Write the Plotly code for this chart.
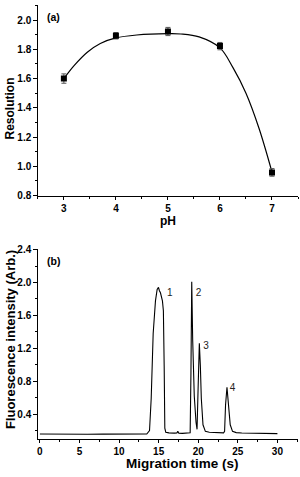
import plotly.graph_objects as go

W, H = 300, 477

# ---- Panel (a) data: resolution vs pH ----
ph = [3, 4, 5, 6, 7]
resolution = [1.60, 1.893, 1.922, 1.822, 0.958]
res_err = [0.032, 0.022, 0.028, 0.025, 0.026]
fit_ph = [3.0, 3.2, 3.45, 3.7, 4.0, 4.4, 5.0, 5.25, 5.6, 6.0, 6.25, 6.5, 6.75, 7.0]
fit_res = [1.60, 1.69, 1.78, 1.84, 1.878, 1.898, 1.907, 1.905, 1.885, 1.81, 1.675, 1.50, 1.26, 0.96]

# ---- Panel (b) data: electropherogram ----
time_s = [0, 2, 4, 6, 8, 10, 12, 13.5, 13.85, 14.06, 14.31, 14.6, 14.81, 14.98, 15.1,
          15.23, 15.48, 15.6, 15.7, 15.78, 15.9, 16.3, 17.0, 17.3, 17.42, 17.55, 18.0,
          18.6, 18.98, 19.08, 19.18, 19.3, 19.5, 19.72, 19.85, 19.98, 20.14, 20.27,
          20.39, 20.6, 20.9, 21.4, 22.0, 22.6, 23.2, 23.33, 23.45, 23.63, 23.83, 24.04,
          24.33, 24.8, 25.5, 26.5, 27.5, 28.5, 29.3, 30.0]
intensity = [0.158, 0.155, 0.157, 0.155, 0.156, 0.155, 0.157, 0.158, 0.20, 0.59, 1.38,
             1.776, 1.915, 1.94, 1.90, 1.875, 1.776, 1.657, 0.985, 0.23, 0.18, 0.172,
             0.168, 0.170, 0.19, 0.168, 0.166, 0.165, 0.172, 0.90, 2.01, 1.30, 0.62,
             0.30, 0.215, 0.70, 1.26, 0.985, 0.59, 0.27, 0.19, 0.18, 0.175, 0.170, 0.172,
             0.19, 0.51, 0.727, 0.51, 0.27, 0.19, 0.175, 0.170, 0.168, 0.166, 0.165,
             0.164, 0.163]
peak_labels = ["1", "2", "3", "4"]
peak_label_t = [16.4, 20.05, 21.0, 24.33]
peak_label_v = [1.86, 1.86, 1.22, 0.715]

# tick settings
ph_ticks = [3, 4, 5, 6, 7]
res_ticks = [0.8, 1.0, 1.2, 1.4, 1.6, 1.8, 2.0]
t_ticks = [0, 5, 10, 15, 20, 25, 30]
int_ticks = [0.4, 0.8, 1.2, 1.6, 2.0, 2.4]

FONT = "Liberation Sans, Arial, sans-serif"

fig = go.Figure()

fig.add_trace(go.Scatter(x=fit_ph, y=fit_res, mode="lines",
                         line=dict(color="black", width=1.2, shape="spline", smoothing=1),
                         xaxis="x", yaxis="y", showlegend=False, hoverinfo="skip"))
fig.add_trace(go.Scatter(x=ph, y=resolution, mode="markers",
                         marker=dict(symbol="square", size=6, color="black"),
                         error_y=dict(type="data", array=res_err, color="#555555",
                                      thickness=1, width=2.5),
                         xaxis="x", yaxis="y", showlegend=False))

fig.add_trace(go.Scatter(x=time_s, y=intensity, mode="lines",
                         line=dict(color="black", width=1.1),
                         xaxis="x2", yaxis="y2", showlegend=False))
fig.add_trace(go.Scatter(x=peak_label_t, y=peak_label_v, mode="text",
                         text=peak_labels, textposition="middle center",
                         textfont=dict(family=FONT, size=10, color="#222"),
                         xaxis="x2", yaxis="y2", showlegend=False))

left, right = 37 / W, 298 / W
axis_common = dict(showline=True, linecolor="black", linewidth=1.2, ticks="outside",
                   ticklen=3.5, tickwidth=1, tickcolor="black", showgrid=False,
                   zeroline=False,
                   tickfont=dict(family=FONT, size=10, color="black", weight="bold"))

fig.update_layout(
    width=W, height=H, margin=dict(l=0, r=0, t=0, b=0),
    paper_bgcolor="white", plot_bgcolor="white",
    xaxis=dict(domain=[left, right], range=[2.5, 7.5], anchor="y",
               tickvals=ph_ticks, ticktext=[str(v) for v in ph_ticks],
               minor=dict(dtick=0.5, tick0=2.5, ticks="outside", ticklen=2,
                          tickcolor="black"),
               **axis_common),
    yaxis=dict(domain=[(H - 195) / H, (H - 0.5) / H], range=[0.8, 2.1], anchor="x",
               tickvals=res_ticks, ticktext=[f"{v:.1f}" for v in res_ticks],
               minor=dict(dtick=0.1, tick0=0.8, ticks="outside", ticklen=2,
                          tickcolor="black"),
               **axis_common),
    xaxis2=dict(domain=[left, right], range=[-0.25, 32.6], anchor="y2",
                tickvals=t_ticks, ticktext=[str(v) for v in t_ticks],
                minor=dict(dtick=2.5, tick0=0, ticks="outside", ticklen=2,
                           tickcolor="black"),
                **axis_common),
    yaxis2=dict(domain=[(H - 444) / H, (H - 249.5) / H], range=[0.1, 2.41], anchor="x2",
                tickvals=int_ticks, ticktext=[f"{v:.1f}" for v in int_ticks],
                minor=dict(dtick=0.2, tick0=0.2, ticks="outside", ticklen=2,
                           tickcolor="black"),
                **axis_common),
)

def px_annot(text, x, y, size, angle=0, bold=True):
    fig.add_annotation(text=text, x=x / W, y=1 - y / H, xref="paper", yref="paper",
                       showarrow=False, textangle=angle, xanchor="center",
                       yanchor="middle",
                       font=dict(family=FONT, size=size, color="black",
                                 weight="bold" if bold else "normal"))

px_annot("pH", 167.5, 221.5, 12)
px_annot("Resolution", 9, 106, 12, angle=-90)
px_annot("Migration time (s)", 182, 469, 13.5)
px_annot("Fluorescence intensity (Arb.)", 9, 342, 13, angle=-90)
px_annot("(a)", 52.5, 12.5, 10.5)
px_annot("(b)", 52.5, 262, 10.5)

fig.write_html("out.html", config={"displayModeBar": False},
               post_script="document.body.style.margin='0';document.body.style.overflow='hidden';")
